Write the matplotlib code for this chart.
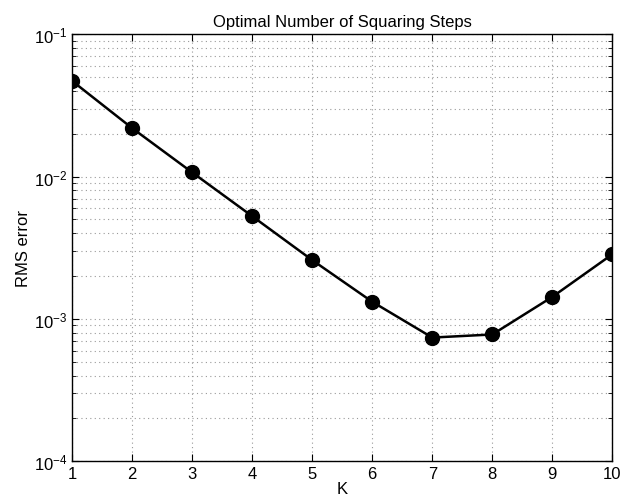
import matplotlib
matplotlib.use("Agg")
import matplotlib.pyplot as plt
from matplotlib.ticker import LogLocator, NullFormatter

plt.rcParams['font.family'] = ['Liberation Sans', 'DejaVu Sans']

# data
k_steps = [1, 2, 3, 4, 5, 6, 7, 8, 9, 10]
rms_error = [0.047, 0.0219, 0.0107, 0.00527, 0.00259, 0.00132,
             0.00074, 0.000778, 0.00143, 0.00285]
x_ticks = [1, 2, 3, 4, 5, 6, 7, 8, 9, 10]

fig = plt.figure(figsize=(6.27, 5.02), dpi=100)
ax = fig.add_axes([0.1148, 0.079, 0.862, 0.851])

ax.plot(k_steps, rms_error, color='black', linewidth=1.8,
        marker='o', markersize=10, zorder=3)

ax.set_yscale('log')
ax.set_xlim(1, 10)
ax.set_ylim(1e-4, 1e-1)
ax.set_xticks(x_ticks)
ax.yaxis.set_minor_locator(LogLocator(base=10, subs=range(2, 10)))
ax.yaxis.set_minor_formatter(NullFormatter())

grid_kw = dict(linestyle=(0, (1, 3)), color='#999999', linewidth=0.8)
ax.grid(True, which='major', **grid_kw)
ax.grid(True, which='minor', axis='y', **grid_kw)

ax.tick_params(which='both', direction='in', top=True, right=True, labelsize=12)
ax.tick_params(which='major', length=5)
ax.tick_params(which='minor', length=3)
for s in ax.spines.values():
    s.set_linewidth(1.0)

ax.set_title('Optimal Number of Squaring Steps', fontsize=12, pad=6)
ax.set_xlabel('K', fontsize=12, labelpad=0)
ax.set_ylabel('RMS error', fontsize=12, labelpad=2)

fig.savefig('out.png', dpi=100)
